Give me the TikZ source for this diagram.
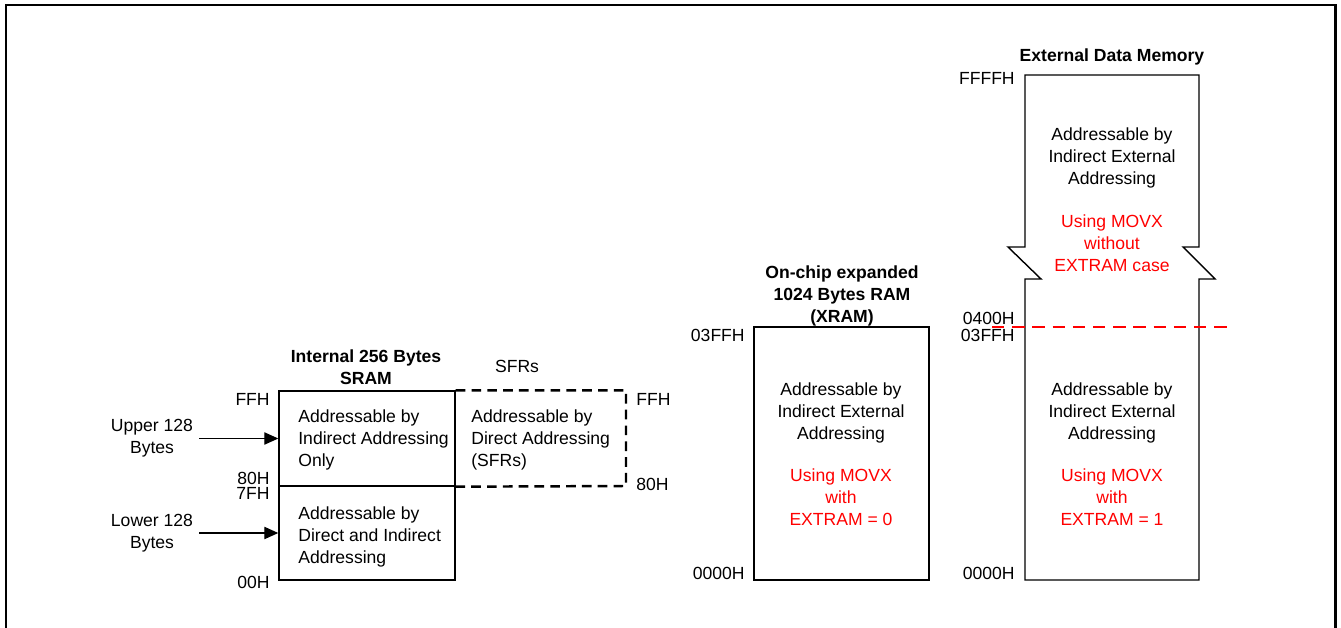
\documentclass[tikz,border=0pt]{standalone}
\usepackage{fontspec}
\setmainfont{Liberation Sans}
\usetikzlibrary{positioning}
\usetikzlibrary{arrows.meta}

\begin{document}
\begin{tikzpicture}[x=0.02cm,y=-0.02cm,
  every node/.style={font=\fontsize{10}{12.5}\selectfont,inner sep=0pt},
  cell/.style={draw,line width=0.8pt,minimum width=3.52cm},
  ttl/.style={align=center,font=\fontsize{10}{12.5}\selectfont\bfseries},
  txt/.style={align=center},
  movx/.style={align=center,text=red},
  arr/.style={-{Triangle[length=8pt,width=7pt]},line width=0.8pt}]
  \useasboundingbox (0,0) rectangle (1341,628);

  % frame
  \draw [line width=1.7pt] (6,628) -- (6,5) -- (1335,5) -- (1335,628);

  % internal SRAM and SFRs
  \node [ttl]  (sramttl) at (366,367) {Internal 256 Bytes\\SRAM};
  \node [cell,minimum height=1.9cm]  (upper) at (367,438.5) {};
  \node [cell,minimum height=1.88cm] (lower) at (367,533)   {};
  \node [align=left,anchor=west] (uppertxt) at (298,439.5) {Addressable by\\Indirect Addressing\\Only};
  \node [align=left,anchor=west] (lowertxt) at (298,536.5) {Addressable by\\Direct and Indirect\\Addressing};
  \draw [line width=1.4pt,dash pattern=on 5.5pt off 3.5pt] (upper.north east) -| (626,486) -- (upper.south east);
  \node (sfrttl) at (517,366) {SFRs};
  \node [align=left,anchor=west] (sfrtxt) at (471,439.5) {Addressable by\\Direct Addressing\\(SFRs)};

  \node [anchor=east] (iffh) at (270,399) {FFH};
  \node [anchor=east] (i80h) at (270,478) {80H};
  \node [anchor=east] (i7fh) at (270,493) {7FH};
  \node [anchor=east] (i00h) at (270,582) {00H};
  \node [anchor=west] (sffh) at (636,399) {FFH};
  \node [anchor=west] (s80h) at (636,484) {80H};

  \node [txt,inner sep=3.3pt] (uplbl)  at (152,438.5) {Upper 128\\Bytes};
  \node [txt,inner sep=3.3pt] (lowlbl) at (152,533) {Lower 128\\Bytes};
  \draw [arr] (uplbl.east)  -- (uplbl.east -| upper.west);
  \draw [arr] (lowlbl.east) -- (lowlbl.east -| lower.west);

  % on-chip XRAM
  \node [ttl] (xramttl) at (842,296) {On-chip expanded\\1024 Bytes RAM\\(XRAM)};
  \node [cell,minimum width=3.5cm,minimum height=5.06cm] (xram) at (841.5,453.5) {};
  \node [txt]  (xramtxt)  at (841,412.5) {Addressable by\\Indirect External\\Addressing};
  \node [movx] (xrammovx) at (841,497) {Using MOVX\\with\\EXTRAM = 0};
  \node [anchor=east] (x03ff) at (745,335) {03FFH};
  \node [anchor=east] (x0000) at (745,573) {0000H};

  % external data memory
  \node [ttl] (extttl) at (1112,57) {External Data Memory};
  \draw [line width=0.8pt] (1025,279) -- (1025,580) -- (1199,580) -- (1199,279) -- (1215,279)
    -- (1183,247) -- (1199,247) -- (1199,75) -- (1025,75) -- (1025,247) -- (1008,247)
    -- (1041,279) -- cycle;
  \node [txt]  (exthitxt)  at (1112,157.5) {Addressable by\\Indirect External\\Addressing};
  \node [movx] (exthimovx) at (1112,243) {Using MOVX\\without\\EXTRAM case};
  \node [txt]  (extlotxt)  at (1112,412.5) {Addressable by\\Indirect External\\Addressing};
  \node [movx] (extlomovx) at (1112,497) {Using MOVX\\with\\EXTRAM = 1};
  \node [anchor=east] (effff) at (1015,78)  {FFFFH};
  \node [anchor=east] (e0400) at (1015,318) {0400H};
  \node [anchor=east] (e03ff) at (1015,335) {03FFH};
  \node [anchor=east] (e0000) at (1015,573) {0000H};

  \coordinate (cutl) at (992,327);
  \coordinate (cutr) at (1233,327);
  \draw [red,line width=1.4pt,dash pattern=on 7pt off 4.5pt] (cutl) -- (cutr);
\end{tikzpicture}
\end{document}
